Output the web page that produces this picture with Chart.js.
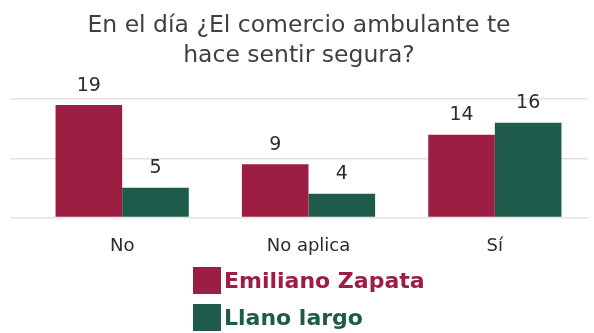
<!DOCTYPE html>
<html lang="es">
<head>
<meta charset="UTF-8">
<title>Comercio ambulante</title>
<script src="https://cdn.jsdelivr.net/npm/chart.js"></script>
<style>
  html, body { margin: 0; padding: 0; background: #fff; }
  #wrap { position: relative; width: 594px; height: 333px; }
  #legend { position: absolute; left: 193px; top: 267px; font-family: "DejaVu Sans", sans-serif; }
  #legend .item { display: flex; align-items: center; height: 27px; margin-bottom: 10px; font-size: 22px; font-weight: bold; }
  #legend .box { width: 28px; height: 27px; margin-right: 3px; }
</style>
</head>
<body>
<div id="wrap">
  <canvas id="chart" width="594" height="333"></canvas>
  <div id="legend"></div>
</div>
<script>
const categories = ['No', 'No aplica', 'Sí'];
const seriesNames = ['Emiliano Zapata', 'Llano largo'];
const emilianoZapata = [19, 9, 14];
const llanoLargo = [5, 4, 16];
const yTicks = [0, 10, 20];

const colors = ['#9c1e42', '#1f5b4b'];
const fontFamily = '"DejaVu Sans", sans-serif';

// value labels above each bar
const barValues = {
  id: 'barValues',
  afterDatasetsDraw(chart) {
    const ctx = chart.ctx;
    ctx.save();
    ctx.font = '19px ' + fontFamily;
    ctx.fillStyle = '#2b2b2b';
    ctx.textAlign = 'center';
    ctx.textBaseline = 'bottom';
    chart.data.datasets.forEach((ds, i) => {
      chart.getDatasetMeta(i).data.forEach((bar, j) => {
        ctx.fillText(ds.data[j], bar.x, bar.y - 10);
      });
    });
    ctx.restore();
  }
};

const chart = new Chart(document.getElementById('chart'), {
  type: 'bar',
  data: {
    labels: categories,
    datasets: [
      { label: seriesNames[0], data: emilianoZapata, backgroundColor: colors[0] },
      { label: seriesNames[1], data: llanoLargo, backgroundColor: colors[1] }
    ]
  },
  options: {
    responsive: false,
    animation: false,
    layout: { padding: { top: 11, left: 10, right: 6, bottom: 66 } },
    datasets: { bar: { barPercentage: 1, categoryPercentage: 0.715 } },
    plugins: {
      legend: { display: false },
      tooltip: { enabled: false },
      title: {
        display: true,
        text: ['En el día ¿El comercio ambulante te', 'hace sentir segura?'],
        color: '#3f3f3f',
        font: { family: fontFamily, size: 23.5, weight: 'normal', lineHeight: 1.28 },
        padding: { top: 0, bottom: 28 }
      }
    },
    scales: {
      x: {
        grid: { display: false },
        border: { display: false },
        ticks: { color: '#2b2b2b', padding: 10, font: { family: fontFamily, size: 18 } }
      },
      y: {
        min: 0,
        max: 20,
        afterBuildTicks(axis) { axis.ticks = yTicks.map(v => ({ value: v })); },
        border: { display: false },
        grid: { color: '#e3e3e3', lineWidth: 1.5, tickLength: 19 },
        ticks: { display: false }
      }
    }
  },
  plugins: [barValues]
});

// legend, one entry per line
const legend = document.getElementById('legend');
chart.data.datasets.forEach(ds => {
  const item = document.createElement('div');
  item.className = 'item';
  item.style.color = ds.backgroundColor;
  const box = document.createElement('span');
  box.className = 'box';
  box.style.background = ds.backgroundColor;
  item.appendChild(box);
  item.appendChild(document.createTextNode(ds.label));
  legend.appendChild(item);
});
</script>
</body>
</html>
